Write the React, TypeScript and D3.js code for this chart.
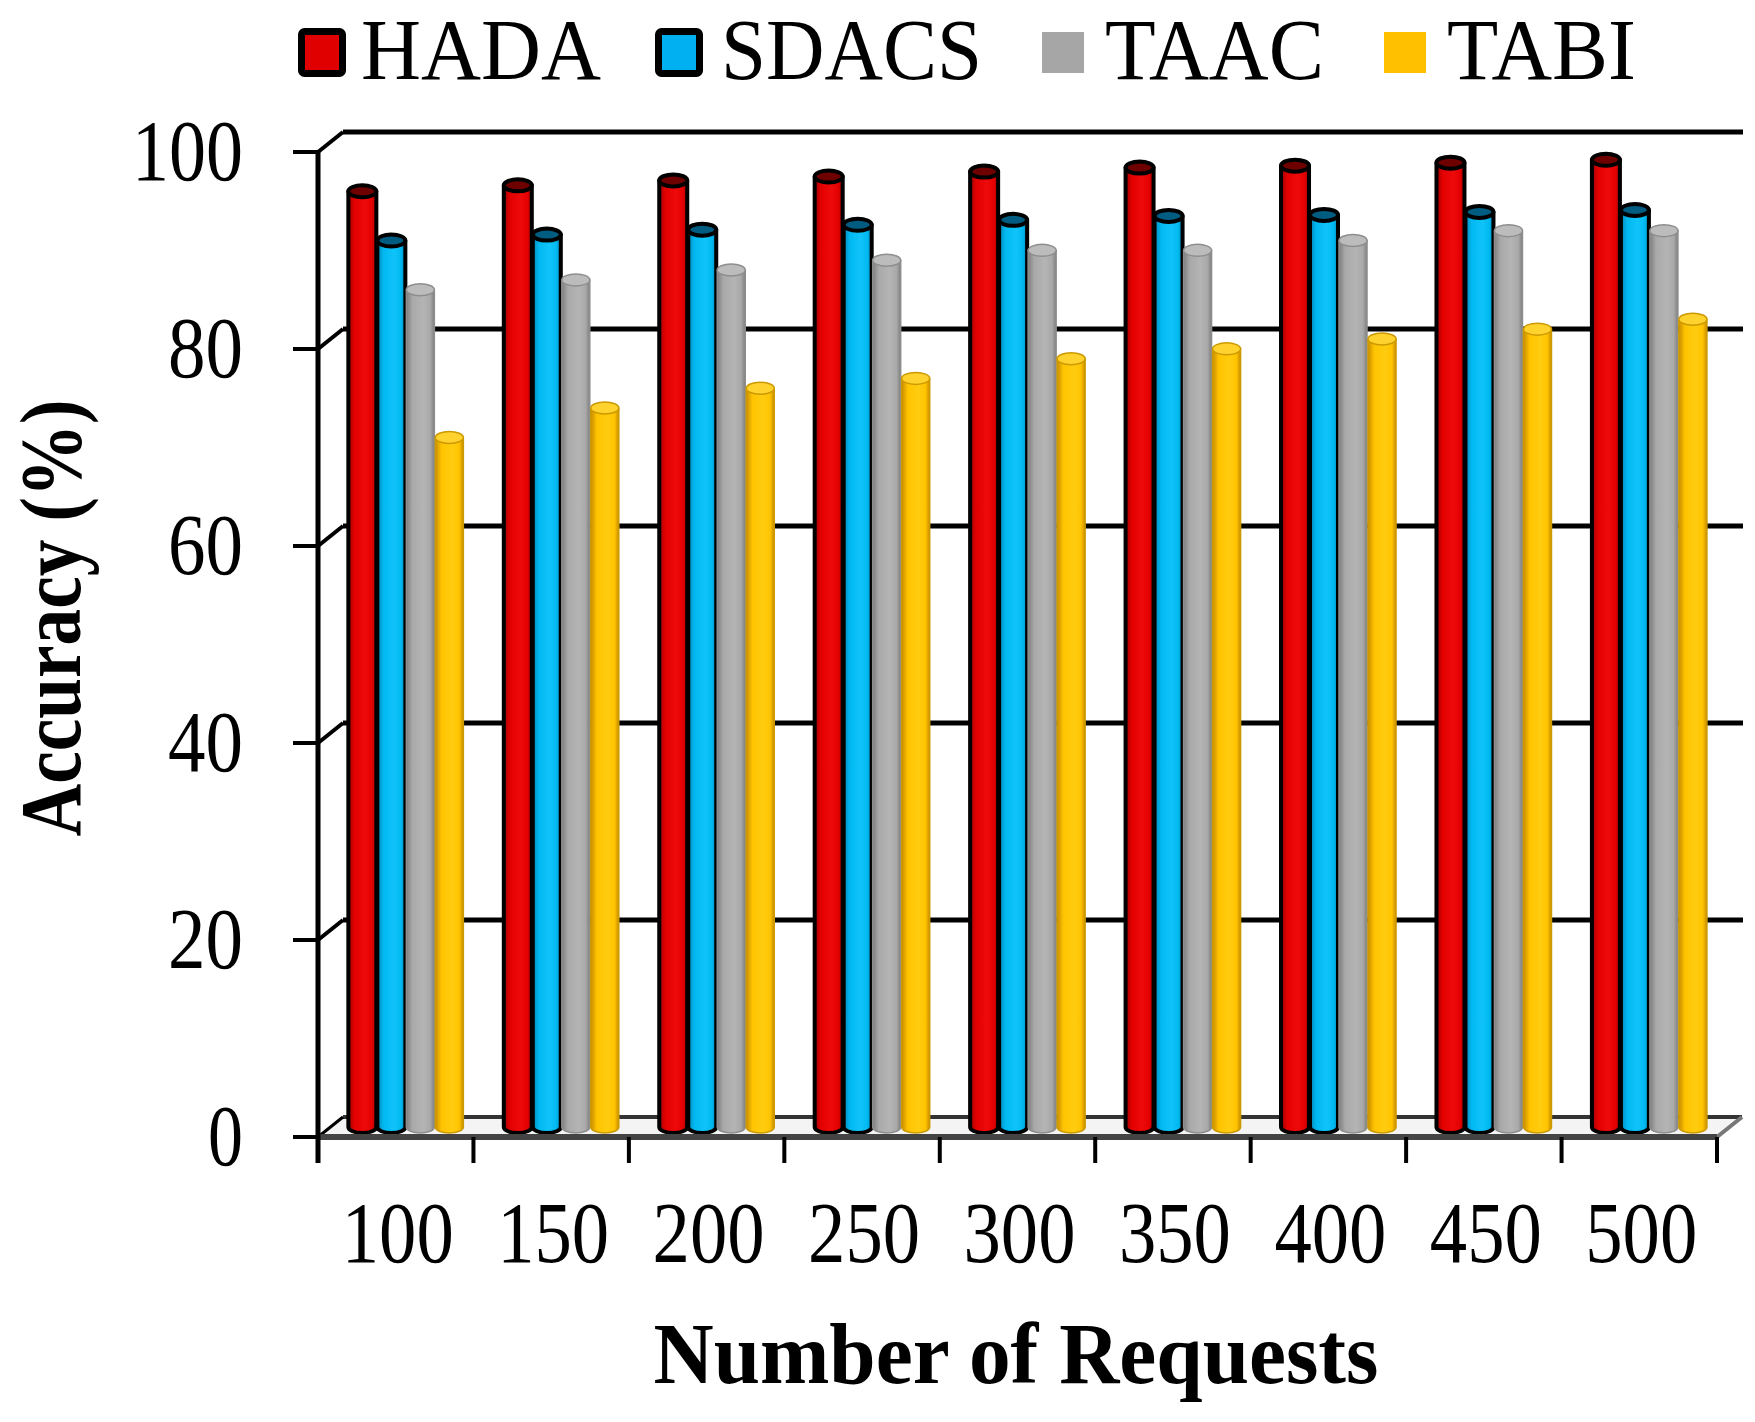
// Accuracy vs. number of requests - 3D cylinder column chart
import React from 'react';
import * as d3 from 'd3';

const categories = ['100', '150', '200', '250', '300', '350', '400', '450', '500'];
const seriesNames = ['HADA', 'SDACS', 'TAAC', 'TABI'];
const hada = [95, 95.6, 96.1, 96.5, 97, 97.4, 97.6, 97.9, 98.2];
const sdacs = [90, 90.6, 91.1, 91.6, 92.1, 92.5, 92.6, 92.9, 93.1];
const taac = [85, 86, 87, 88, 89, 89, 90, 91, 91];
const tabi = [70, 73, 75, 76, 78, 79, 80, 81, 82];
const yTicks = [0, 20, 40, 60, 80, 100];

const W = 1755;
const H = 1422;
const DX = 25; // depth offset of the back wall
const DY = -20;
const FONT = '"Liberation Serif", "Times New Roman", serif';

const styles = [
  { key: 'HADA', edge: '#a00000', base: '#e30000', light: '#ee0a0a', top: '#6e0000', stroke: '#000', sw: 4, swatch: '#e00000' },
  { key: 'SDACS', edge: '#0088b8', base: '#00b8f0', light: '#10c4fa', top: '#005c80', stroke: '#000', sw: 4, swatch: '#00b0f0' },
  { key: 'TAAC', edge: '#7e7e7e', base: '#a9a9a9', light: '#b4b4b4', top: '#bcbcbc', stroke: '#8e8e8e', sw: 1.5, swatch: '#a6a6a6' },
  { key: 'TABI', edge: '#c98c00', base: '#ffc400', light: '#ffcc10', top: '#ffd22e', stroke: '#cc9a00', sw: 1.5, swatch: '#ffc000' },
];

// legend positions
const legendItems = [
  { name: 'HADA', sx: 298, tx: 361, tw: 240 },
  { name: 'SDACS', sx: 655, tx: 721, tw: 261 },
  { name: 'TAAC', sx: 1042, tx: 1105, tw: 219 },
  { name: 'TABI', sx: 1384, tx: 1447, tw: 189 },
];

export default function App() {
  const values = [hada, sdacs, taac, tabi];
  const x = d3.scaleBand<string>().domain(categories).range([318, 1717]);
  const y = d3.scaleLinear().domain([0, 100]).range([1137, 152]);
  const xs = d3.scaleBand<string>()
    .domain(seriesNames)
    .range([0, x.bandwidth()])
    .paddingOuter(0.68)
    .align(0.44);

  const rx = 14;
  const ry = 6;
  const baseY = y(0) + DY / 2;

  const tickLabelWidth: Record<number, number> = { 0: 35, 20: 75, 40: 75, 60: 75, 80: 75, 100: 111 };

  const x0 = x.range()[0];
  const x1 = x.range()[1];

  return (
    <svg
      width={W}
      height={H}
      viewBox={`0 0 ${W} ${H}`}
      style={{ position: 'absolute', left: 0, top: 0, display: 'block', background: '#fff' }}
    >
      <defs>
        {styles.map(s => (
          <linearGradient key={s.key} id={`grad-${s.key}`} x1="0" x2="1" y1="0" y2="0">
            <stop offset="0" stopColor={s.edge} />
            <stop offset="0.22" stopColor={s.base} />
            <stop offset="0.6" stopColor={s.light} />
            <stop offset="0.85" stopColor={s.base} />
            <stop offset="1" stopColor={s.edge} />
          </linearGradient>
        ))}
      </defs>

      {/* back wall gridlines */}
      {yTicks.filter(t => t > 0).map(t => (
        <g key={`grid-${t}`}>
          <line x1={x0 + DX} x2={x1 + DX + 1} y1={y(t) + DY} y2={y(t) + DY} stroke="#000" strokeWidth={5} />
          <line x1={x0} x2={x0 + DX} y1={y(t)} y2={y(t) + DY} stroke="#000" strokeWidth={4} />
        </g>
      ))}

      {/* floor */}
      <polygon
        points={`${x0},${y(0)} ${x1},${y(0)} ${x1 + DX},${y(0) + DY} ${x0 + DX},${y(0) + DY}`}
        fill="#f4f4f4"
        stroke="none"
      />
      <line x1={x0 + DX} x2={x1 + DX} y1={y(0) + DY} y2={y(0) + DY} stroke="#333" strokeWidth={4} />
      <line x1={x1} x2={x1 + DX} y1={y(0)} y2={y(0) + DY} stroke="#777" strokeWidth={4} />
      <line x1={x0} x2={x0 + DX} y1={y(0)} y2={y(0) + DY} stroke="#000" strokeWidth={3} />

      {/* cylinders */}
      {categories.map((c, ci) => (
        <g key={`grp-${c}`}>
          {seriesNames.map((s, si) => {
            const st = styles[si];
            const v = values[si][ci];
            const cx = (x(c) as number) + DX / 2 + (xs(s) as number) + xs.bandwidth() / 2;
            const top = y(v) + DY / 2;
            const body = `M${cx - rx},${top} L${cx - rx},${baseY} A${rx},${ry} 0 0 0 ${cx + rx},${baseY} L${cx + rx},${top} Z`;
            return (
              <g key={`bar-${c}-${s}`}>
                <path d={body} fill={`url(#grad-${st.key})`} stroke={st.stroke} strokeWidth={st.sw} strokeLinejoin="round" />
                <ellipse cx={cx} cy={top} rx={rx} ry={ry} fill={st.top} stroke={st.stroke} strokeWidth={st.sw} />
              </g>
            );
          })}
        </g>
      ))}

      {/* floor front edge */}
      <line x1={x0} x2={x1} y1={y(0)} y2={y(0)} stroke="#444" strokeWidth={6} />

      {/* y axis */}
      <line x1={x0} x2={x0} y1={y(100)} y2={y(0) + 26} stroke="#000" strokeWidth={5} />
      {yTicks.map(t => (
        <g key={`yt-${t}`}>
          <line x1={x0 - 25} x2={x0} y1={y(t)} y2={y(t)} stroke="#000" strokeWidth={4} />
          <text
            x={243}
            y={y(t) + 28}
            textAnchor="end"
            fontFamily={FONT}
            fontSize={86}
            textLength={tickLabelWidth[t]}
            lengthAdjust="spacingAndGlyphs"
          >
            {t}
          </text>
        </g>
      ))}

      {/* x axis ticks + labels */}
      {[...categories.map(c => x(c) as number), x1].map((px, i) => (
        <line key={`xt-${i}`} x1={px} x2={px} y1={y(0)} y2={y(0) + 26} stroke="#000" strokeWidth={4} />
      ))}
      {categories.map(c => (
        <text
          key={`xl-${c}`}
          x={(x(c) as number) + x.bandwidth() / 2 + 2}
          y={1262}
          textAnchor="middle"
          fontFamily={FONT}
          fontSize={86}
          textLength={112}
          lengthAdjust="spacingAndGlyphs"
        >
          {c}
        </text>
      ))}

      {/* axis titles */}
      <text
        x={1016}
        y={1383}
        textAnchor="middle"
        fontFamily={FONT}
        fontWeight="bold"
        fontSize={86}
        textLength={725}
        lengthAdjust="spacingAndGlyphs"
      >
        Number of Requests
      </text>
      <text
        transform={`translate(80,618) rotate(-90)`}
        textAnchor="middle"
        fontFamily={FONT}
        fontWeight="bold"
        fontSize={86}
        textLength={437}
        lengthAdjust="spacingAndGlyphs"
      >
        Accuracy (%)
      </text>

      {/* legend */}
      {legendItems.map((l, i) => {
        const st = styles[i];
        const bordered = st.stroke === '#000';
        return (
          <g key={`lg-${l.name}`}>
            {bordered ? (
              <rect x={l.sx + 3.5} y={31.5} width={41} height={42} rx={3} fill={st.swatch} stroke="#000" strokeWidth={7} />
            ) : (
              <rect x={l.sx} y={32} width={42} height={41} fill={st.swatch} />
            )}
            <text
              x={l.tx}
              y={79}
              fontFamily={FONT}
              fontSize={86}
              textLength={l.tw}
              lengthAdjust="spacingAndGlyphs"
            >
              {l.name}
            </text>
          </g>
        );
      })}
    </svg>
  );
}
